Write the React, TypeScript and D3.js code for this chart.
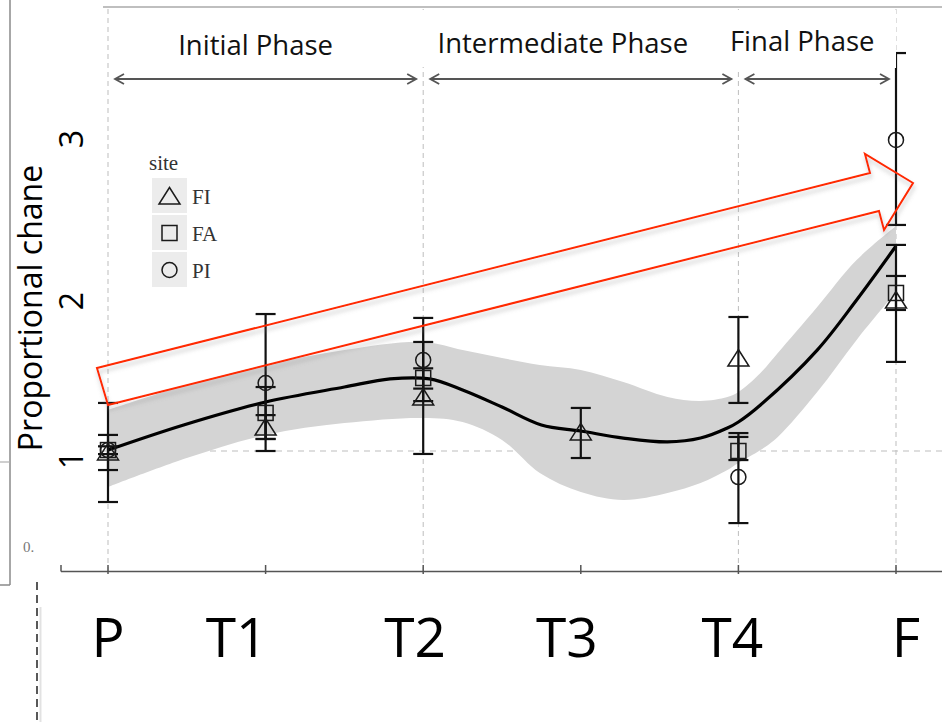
import React from "react";
import * as d3 from "d3";

// ---------- data ----------
const categories = ["P", "T1", "T2", "T3", "T4", "F"];
const siteNames = ["FI", "FA", "PI"];

const fiMean = [0.994, 1.154, 1.346, 1.122, 1.596, 1.968];
const fiLow = [0.878, 1.077, 0.981, 0.955, 1.308, 1.571];
const fiHigh = [1.103, 1.23, 1.699, 1.276, 1.859, 2.321];

const faMean = [1.006, 1.244, 1.468, null, 1.0, 2.013];
const faLow = [0.98, 1.077, 1.4, null, 0.942, 1.904];
const faHigh = [1.03, 1.41, 1.53, null, 1.09, 2.122];

const piMean = [1.006, 1.436, 1.583, null, 0.833, 2.994];
const piLow = [0.673, 1.0, 1.32, null, 0.538, 2.449];
const piHigh = [1.308, 1.878, 1.853, null, 1.115, 3.551];

// smoothed fit (position along category index, value)
const fitT = [0, 0.48, 1, 1.5, 1.79, 2.04, 2.25, 2.5, 2.75, 3, 3.27, 3.55, 3.76, 3.93, 4.0, 4.14, 4.5, 4.75, 5];
const fitMean = [1.006, 1.167, 1.314, 1.41, 1.462, 1.462, 1.391, 1.282, 1.167, 1.128, 1.083, 1.058, 1.083, 1.147, 1.186, 1.295, 1.647, 1.968, 2.314];

const bandT = [0, 0.5, 1, 1.5, 2, 2.25, 2.5, 2.74, 3, 3.27, 3.55, 3.76, 3.93, 4, 4.14, 4.25, 4.5, 4.75, 5];
const bandHigh = [1.263, 1.423, 1.551, 1.647, 1.699, 1.647, 1.596, 1.551, 1.519, 1.442, 1.346, 1.321, 1.346, 1.378, 1.5, 1.628, 1.923, 2.224, 2.442];
const bandLow = [0.769, 0.955, 1.103, 1.179, 1.212, 1.186, 1.071, 0.859, 0.737, 0.686, 0.731, 0.795, 0.878, 0.923, 1.006, 1.09, 1.378, 1.712, 2.019];

const yTicks = [1, 2, 3];
const refValue = 1;
const gridAt = [0, 2, 4, 5];

const phaseNames = ["Initial Phase", "Intermediate Phase", "Final Phase"];
const phaseStart = [0, 2, 4];
const phaseEnd = [2, 4, 5];

// red trend arrow outline (category index, value)
const trendT = [-0.07, 4.835, 4.803, 5.108, 4.924, 4.892, 0];
const trendV = [1.532, 2.782, 2.904, 2.718, 2.417, 2.538, 1.295];

// ---------- layout ----------
const W = 942;
const H = 722;
const FONT = "'Open Sans', 'Noto Sans', sans-serif";
const SERIF = "'Liberation Serif', 'DejaVu Serif', serif";
const catLabelOffset = [0, -29, -8, -14, -6, 10];
const yTickOffset = [9, 6, 0];
const phaseLabelOffset = [-10, -18, -15];
const phaseLabelBaseline = [55, 53, 51];

const xs = d3.scaleLinear().domain([0, 5]).range([108, 896]);
const ys = d3.scaleLinear().domain([1, 3]).range([451, 139]);

type Shape = "tri" | "sq" | "circ";
const siteShapes: Shape[] = ["tri", "sq", "circ"];
const siteMeans = [fiMean, faMean, piMean];
const siteLows = [fiLow, faLow, piLow];
const siteHighs = [fiHigh, faHigh, piHigh];

function Marker({ shape, x, y }: { shape: Shape; x: number; y: number }) {
  const st = { fill: "none", stroke: "#1a1a1a", strokeWidth: 1.5 };
  if (shape === "tri") {
    const p = `M${x},${y - 8.5}L${x + 10.5},${y + 8}L${x - 10.5},${y + 8}Z`;
    return <path d={p} {...st} />;
  }
  if (shape === "sq") {
    return <rect x={x - 7.5} y={y - 7.5} width={15} height={15} {...st} />;
  }
  return <circle cx={x} cy={y} r={7.5} {...st} />;
}

export default function App() {
  const area = d3
    .area<number>()
    .x((_, i) => xs(bandT[i]))
    .y0((_, i) => ys(bandLow[i]))
    .y1((_, i) => ys(bandHigh[i]))
    .curve(d3.curveCatmullRom.alpha(0.5));
  const line = d3
    .line<number>()
    .x((_, i) => xs(fitT[i]))
    .y((d) => ys(d))
    .curve(d3.curveCatmullRom.alpha(0.5));
  const trendPath =
    trendT.map((t, i) => `${i === 0 ? "M" : "L"}${xs(t)},${ys(trendV[i])}`).join("") + "Z";

  const axisY = 571.5;
  const arrowY = 79;

  return (
    <svg
      width={W}
      height={H}
      viewBox={`0 0 ${W} ${H}`}
      style={{ position: "absolute", left: 0, top: 0, background: "#fff" }}
    >
      <defs>
        <filter id="shadow" x="-10%" y="-20%" width="120%" height="160%">
          <feDropShadow dx="1" dy="4" stdDeviation="2" floodColor="#888" floodOpacity="0.45" />
        </filter>
      </defs>
      <rect x={0} y={0} width={W} height={H} fill="#fff" />

      {/* left decorations */}
      <line x1={10} y1={0} x2={10} y2={585} stroke="#8a8a8a" strokeWidth={1.5} />
      <line x1={0} y1={585} x2={10} y2={585} stroke="#8a8a8a" strokeWidth={1.5} />
      <line x1={0} y1={462} x2={10} y2={462} stroke="#b0b0b0" strokeWidth={1.2} />
      <text x={23} y={552} fontFamily={SERIF} fontSize={15} fill="#777">0.</text>
      <line x1={37} y1={582} x2={37} y2={722} stroke="#222" strokeWidth={1.5} strokeDasharray="8 5" />
      <line x1={40.5} y1={607} x2={40.5} y2={722} stroke="#e2e2e2" strokeWidth={2} />

      {/* top border */}
      <line x1={103} y1={7} x2={W} y2={7} stroke="#aaa" strokeWidth={1.5} />

      {/* grid lines */}
      {gridAt.map((g) => (
        <line key={g} x1={xs(g)} y1={9} x2={xs(g)} y2={axisY} stroke="#bdbdbd" strokeWidth={1} strokeDasharray="5 4" />
      ))}
      <line x1={xs(0) - 8} y1={ys(refValue)} x2={W} y2={ys(refValue)} stroke="#bdbdbd" strokeWidth={1} strokeDasharray="6 5" />

      {/* confidence band and fit */}
      <path d={area(bandT) || ""} fill="#d4d4d4" />
      <path d={line(fitMean) || ""} fill="none" stroke="#000" strokeWidth={3.2} />

      {/* error bars */}
      {siteMeans.map((means, s) =>
        means.map((m, i) => {
          if (m === null) return null;
          const lo = siteLows[s][i] as number;
          const hi = siteHighs[s][i] as number;
          const x = xs(i);
          return (
            <g key={`e${s}-${i}`} stroke="#111" strokeWidth={2.2}>
              <line x1={x} y1={ys(lo)} x2={x} y2={ys(hi)} />
              <line x1={x - 10} y1={ys(lo)} x2={x + 10} y2={ys(lo)} />
              <line x1={x - 10} y1={ys(hi)} x2={x + 10} y2={ys(hi)} />
            </g>
          );
        })
      )}
      {siteMeans.map((means, s) =>
        means.map((m, i) =>
          m === null ? null : <Marker key={`m${s}-${i}`} shape={siteShapes[s]} x={xs(i)} y={ys(m)} />
        )
      )}

      {/* legend */}
      <text x={149} y={170} fontFamily={SERIF} fontSize={21} fill="#333">site</text>
      {siteNames.map((n, i) => {
        const top = 178 + i * 37;
        return (
          <g key={n}>
            <rect x={152} y={top} width={35} height={35} fill="#ececec" />
            <Marker shape={siteShapes[i]} x={169.5} y={top + 18} />
            <text x={192} y={top + 26} fontFamily={SERIF} fontSize={21} fill="#333">{n}</text>
          </g>
        );
      })}

      {/* phase arrows */}
      {phaseNames.map((p, i) => {
        const x1 = xs(phaseStart[i]) + 7;
        const x2 = xs(phaseEnd[i]) - 7;
        return (
          <g key={p} stroke="#555" strokeWidth={1.8} fill="none">
            <line x1={x1} y1={arrowY} x2={x2} y2={arrowY} />
            <path d={`M${x1 + 9},${arrowY - 5}L${x1},${arrowY}L${x1 + 9},${arrowY + 5}`} />
            <path d={`M${x2 - 9},${arrowY - 5}L${x2},${arrowY}L${x2 - 9},${arrowY + 5}`} />
          </g>
        );
      })}
      {/* label boxes */}
      <rect x={xs(2) - 4} y={10} width={280} height={57} fill="#fff" />
      <rect x={xs(4) - 20} y={10} width={xs(5) - xs(4) + 20} height={58} fill="#fff" />
      {phaseNames.map((p, i) => (
        <text
          key={p}
          x={(xs(phaseStart[i]) + xs(phaseEnd[i])) / 2 + phaseLabelOffset[i]}
          y={phaseLabelBaseline[i]}
          textAnchor="middle"
          fontFamily={FONT}
          fontSize={27.5}
          fill="#111"
        >
          {p}
        </text>
      ))}
      {/* trend arrow */}
      <path d={trendPath} fill="none" stroke="#ff2a00" strokeWidth={2} strokeLinejoin="miter" filter="url(#shadow)" />

      {/* x axis */}
      <line x1={61} y1={axisY} x2={W} y2={axisY} stroke="#555" strokeWidth={1.5} />
      <line x1={61} y1={565} x2={61} y2={axisY} stroke="#555" strokeWidth={1.5} />
      {categories.map((c, i) => (
        <line key={c} x1={xs(i)} y1={565} x2={xs(i)} y2={574} stroke="#555" strokeWidth={1.5} />
      ))}
      {categories.map((c, i) => (
        <text
          key={`l${c}`}
          x={xs(i) + catLabelOffset[i]}
          y={657}
          textAnchor="middle"
          fontFamily={FONT}
          fontSize={55}
          fill="#000"
        >
          {c}
        </text>
      ))}

      {/* y tick labels */}
      {yTicks.map((t, i) => (
        <text
          key={t}
          transform={`translate(83,${ys(t) + yTickOffset[i]}) rotate(-90)`}
          textAnchor="middle"
          fontFamily={FONT}
          fontSize={32}
          fill="#000"
        >
          {t}
        </text>
      ))}
      <text
        transform="translate(42,308) rotate(-90)"
        textAnchor="middle"
        fontFamily={FONT}
        fontSize={32}
        fill="#000"
      >
        Proportional chane
      </text>
    </svg>
  );
}
